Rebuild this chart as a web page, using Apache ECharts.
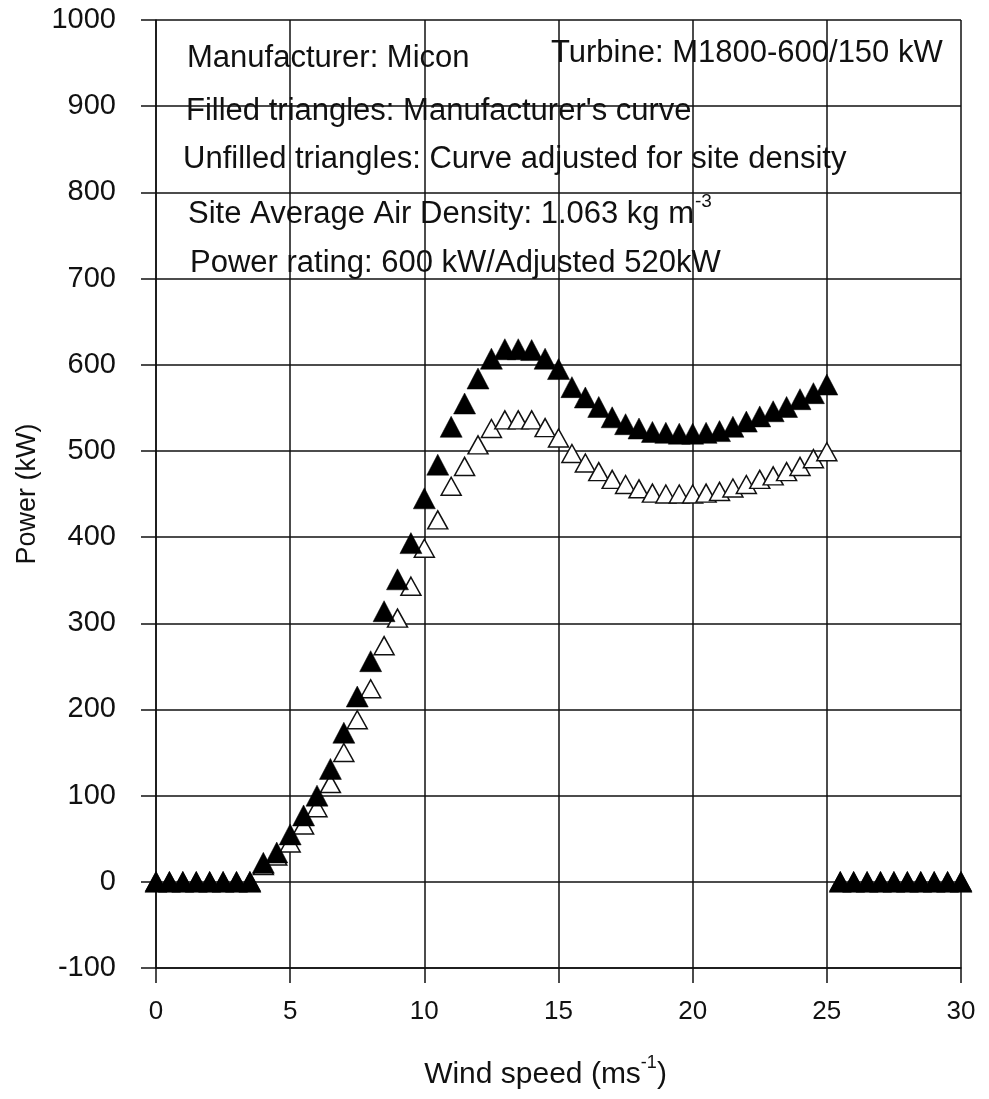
<!DOCTYPE html>
<html>
<head>
<meta charset="utf-8">
<script src="https://cdn.jsdelivr.net/npm/echarts@6/dist/echarts.min.js"></script>
<style>
  html, body { margin: 0; padding: 0; background: #fff; }
  #chart { width: 989px; height: 1099px; }
</style>
</head>
<body>
<div id="chart"></div>
<script>
// Wind speed steps (m/s)
const windSpeed = [
  0, 0.5, 1, 1.5, 2, 2.5, 3, 3.5, 4, 4.5,
  5, 5.5, 6, 6.5, 7, 7.5, 8, 8.5, 9, 9.5,
  10, 10.5, 11, 11.5, 12, 12.5, 13, 13.5, 14, 14.5,
  15, 15.5, 16, 16.5, 17, 17.5, 18, 18.5, 19, 19.5,
  20, 20.5, 21, 21.5, 22, 22.5, 23, 23.5, 24, 24.5,
  25, 25.5, 26, 26.5, 27, 27.5, 28, 28.5, 29, 29.5, 30
];

// Manufacturer's power curve (kW) - filled triangles
const manufacturerPower = [
  0, 0, 0, 0, 0, 0, 0, 0, 22, 34,
  55, 77, 100, 131, 173, 215, 256, 314, 351, 393,
  445, 484, 528, 555, 584, 607, 618, 618, 617, 607,
  595, 574, 562, 551, 539, 531, 526, 522, 521, 520,
  520, 521, 523, 528, 534, 540, 546, 551, 560, 567,
  577, 0, 0, 0, 0, 0, 0, 0, 0, 0, 0
];

// Curve adjusted for site air density (kW) - unfilled triangles
const adjustedPower = [
  0, 0, 0, 0, 0, 0, 0, 0, 19, 30,
  45, 66, 86, 114, 150, 188, 224, 274, 306, 343,
  387, 420, 459, 482, 507, 526, 536, 536, 536, 527,
  515, 497, 486, 476, 467, 461, 456, 451, 450, 450,
  450, 451, 453, 457, 461, 467, 471, 476, 482, 491,
  499, 0, 0, 0, 0, 0, 0, 0, 0, 0, 0
];

// Axis tick settings
const xTicks = { min: 0, max: 30, step: 5 };
const yTicks = { min: -100, max: 1000, step: 100 };

const FONT = '"Liberation Sans", Arial, sans-serif';
const INK = '#111';

const pairs = (ys) => windSpeed.map((x, i) => [x, ys[i]]);

const chart = echarts.init(document.getElementById('chart'), null, { renderer: 'canvas' });

// Annotation text block inside the plot
const note = (x, y, text, rich) => ({
  type: 'text',
  z: 100,
  style: {
    x: x, y: y,
    text: text,
    fontFamily: FONT,
    fontSize: 31,
    fill: INK,
    verticalAlign: 'middle',
    rich: rich || {}
  }
});

const supRich = {
  a: { fontFamily: FONT, fontSize: 31, fill: INK, lineHeight: 38, verticalAlign: 'bottom' },
  s: { fontFamily: FONT, fontSize: 19, fill: INK, lineHeight: 38, verticalAlign: 'top', padding: [0, 0, 0, 1] }
};

chart.setOption({
  backgroundColor: '#fff',
  animation: false,
  grid: { left: 156, right: 28, top: 20, bottom: 131 },
  xAxis: {
    type: 'value',
    min: xTicks.min, max: xTicks.max, interval: xTicks.step,
    name: '{a|Wind speed (ms}{s|-1}{a|)}',
    nameLocation: 'middle',
    nameGap: 86,
    nameTextStyle: {
      padding: [0, 26, 0, 0],
      rich: {
        a: { fontFamily: FONT, fontSize: 30, color: INK, lineHeight: 36, verticalAlign: 'bottom' },
        s: { fontFamily: FONT, fontSize: 18, color: INK, lineHeight: 36, verticalAlign: 'top' }
      }
    },
    axisLine: { show: true, onZero: false, lineStyle: { color: INK, width: 1.5 } },
    axisTick: { show: true, inside: false, length: 15, lineStyle: { color: INK, width: 1.5 } },
    axisLabel: { fontFamily: FONT, fontSize: 26, color: INK, margin: 31 },
    splitLine: { show: true, lineStyle: { color: INK, width: 1.5 } }
  },
  yAxis: {
    type: 'value',
    min: yTicks.min, max: yTicks.max, interval: yTicks.step,
    name: 'Power (kW)',
    nameLocation: 'middle',
    nameGap: 100,
    nameTextStyle: { fontFamily: FONT, fontSize: 27, color: INK },
    axisLine: { show: true, onZero: false, lineStyle: { color: INK, width: 1.5 } },
    axisTick: { show: true, inside: false, length: 15, lineStyle: { color: INK, width: 1.5 } },
    axisLabel: { fontFamily: FONT, fontSize: 29, color: INK, margin: 40, formatter: (v) => String(v) },
    splitLine: { show: true, lineStyle: { color: INK, width: 1.5 } }
  },
  series: [
    {
      name: 'Curve adjusted for site density',
      type: 'scatter',
      symbol: 'triangle',
      symbolSize: [20, 18],
      itemStyle: { color: '#fff', borderColor: INK, borderWidth: 1.5, opacity: 1 },
      data: pairs(adjustedPower),
      z: 3
    },
    {
      name: "Manufacturer's curve",
      type: 'scatter',
      symbol: 'triangle',
      symbolSize: [22, 21],
      itemStyle: { color: '#000', borderColor: '#000', borderWidth: 0.5, opacity: 1 },
      data: pairs(manufacturerPower),
      z: 4
    }
  ],
  graphic: [
    note(187, 58, 'Manufacturer: Micon'),
    note(551, 53, 'Turbine: M1800-600/150 kW'),
    note(186, 111, "Filled triangles: Manufacturer's curve"),
    note(183, 159, 'Unfilled triangles: Curve adjusted for site density'),
    note(188, 211, '{a|Site Average Air Density: 1.063 kg m}{s|-3}', supRich),
    note(190, 263, 'Power rating: 600 kW/Adjusted 520kW')
  ]
});
</script>
</body>
</html>
